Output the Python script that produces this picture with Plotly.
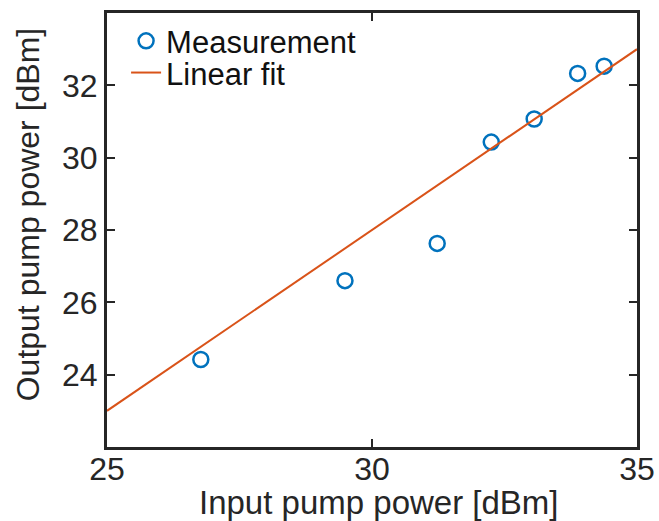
import plotly.graph_objects as go

# Data
input_power = [26.77, 29.49, 31.23, 32.25, 33.06, 33.88, 34.38]
output_power = [24.42, 26.60, 27.63, 30.43, 31.07, 32.33, 32.53]
fit_x = [25, 35]
fit_y = [23.0, 33.0]

x_ticks = [25, 30, 35]
y_ticks = [24, 26, 28, 30, 32]

blue = "#0072BD"
orange = "#D95319"
axc = "#262626"
font_family = "Liberation Sans, Arial, sans-serif"

fig = go.Figure()
fig.add_trace(go.Scatter(
    x=input_power, y=output_power, mode="markers", name="Measurement",
    marker=dict(symbol="circle-open", size=15, color=blue, line=dict(width=2.5, color=blue)),
    legend="legend",
))
fig.add_trace(go.Scatter(
    x=fit_x, y=fit_y, mode="lines", name="Linear fit",
    line=dict(color=orange, width=2),
    legend="legend2",
))

leg_common = dict(xanchor="left", yanchor="middle",
                  bgcolor="rgba(0,0,0,0)", borderwidth=0,
                  font=dict(size=31, family=font_family, color="#111111"),
                  itemwidth=30)

fig.update_layout(
    width=659, height=521,
    margin=dict(l=107, r=22, t=13, b=74, autoexpand=False),
    paper_bgcolor="white", plot_bgcolor="white",
    font=dict(family=font_family, color=axc),
    showlegend=True,
    legend=dict(x=0.036, y=0.935, **leg_common),
    legend2=dict(x=0.036, y=0.862, **leg_common),
    annotations=[
        dict(text="Input pump power [dBm]", xref="paper", yref="paper",
             x=0.513, y=-0.127, xanchor="center", yanchor="middle",
             showarrow=False, font=dict(size=33, family=font_family, color=axc)),
        dict(text="Output pump power [dBm]", xref="paper", yref="paper",
             x=-0.15, y=0.535, xanchor="center", yanchor="middle", textangle=-90,
             showarrow=False, font=dict(size=32, family=font_family, color=axc)),
    ],
)

fig.update_xaxes(
    range=[25, 35], tickvals=x_ticks, ticktext=[str(v) for v in x_ticks],
    showgrid=False, zeroline=False, automargin=False,
    showline=True, linecolor=axc, linewidth=3, mirror="ticks",
    ticks="inside", ticklen=8, tickwidth=2, tickcolor=axc,
    tickfont=dict(size=32, family=font_family, color=axc),
    ticklabelstandoff=-8,
)
fig.update_yaxes(
    range=[22, 34], tickvals=y_ticks, ticktext=[str(v) for v in y_ticks],
    showgrid=False, zeroline=False, automargin=False,
    showline=True, linecolor=axc, linewidth=3, mirror="ticks",
    ticks="inside", ticklen=8, tickwidth=2, tickcolor=axc,
    tickfont=dict(size=32, family=font_family, color=axc),
)

fig.write_html("out.html")
